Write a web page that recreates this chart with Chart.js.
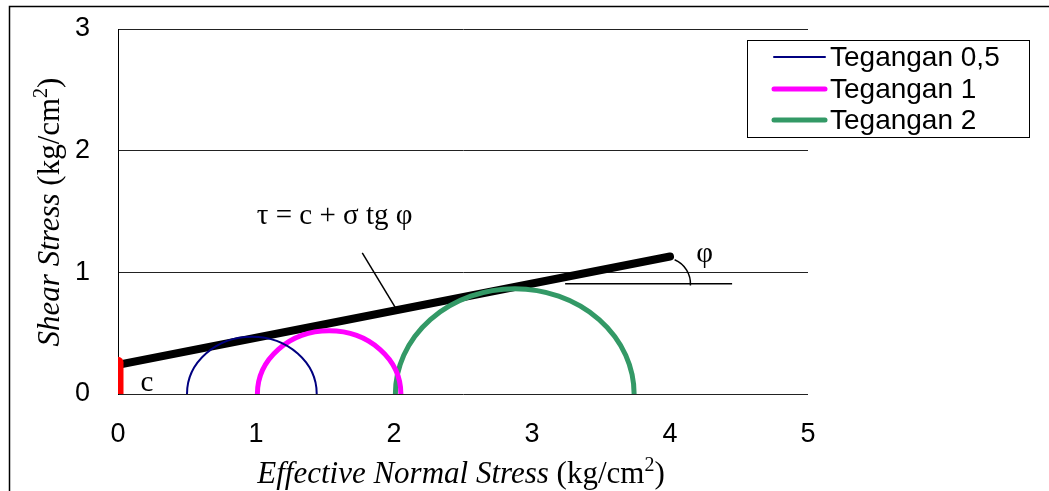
<!DOCTYPE html>
<html>
<head>
<meta charset="utf-8">
<script src="https://cdn.jsdelivr.net/npm/chart.js@4.4.1/dist/chart.umd.min.js"></script>
<style>
  body { margin: 0; background: #fff; }
  canvas { display: block; }
</style>
</head>
<body>
<canvas id="canvas" width="1049" height="491"></canvas>
<script>
// Mohr circles: sigma3 (left end) and sigma1 (right end), kg/cm2
const circleLabels = ['Tegangan 0,5', 'Tegangan 1', 'Tegangan 2'];
const sigma3 = [0.5, 1.01, 2.01];
const sigma1 = [1.44, 2.05, 3.74];
const circleColors = ['#000080', '#ff00ff', '#339966'];
const circleWidths = [2, 5, 5];

// failure envelope  tau = c + sigma tg phi
const envelopeX = [0, 4.0];
const envelopeY = [0.24, 1.13];
// cohesion c
const cohesionY = [0, 0.26];

// annotation helpers
const phiLineX = [3.24, 4.45];
const phiLineY = 0.907;
const pointerX = [1.77, 2.01];
const pointerY = [1.16, 0.71];
const xTicks = [0, 1, 2, 3, 4, 5];
const yTicks = [0, 1, 2, 3];

const toPts = (xs, ys) => xs.map((x, i) => ({ x: x, y: ys[i] }));

const datasets = circleLabels.map((lab, i) => ({
    label: lab,
    data: [{ x: sigma3[i], y: 0 }, { x: sigma1[i], y: 0 }],
    borderColor: circleColors[i],
    borderWidth: circleWidths[i],
    showLine: false,
    pointRadius: 0
}));
datasets.push({
    label: 'envelope',
    data: toPts(envelopeX, envelopeY),
    borderColor: '#000', borderWidth: 8, borderCapStyle: 'round',
    clip: { left: 0, top: 10, right: 10, bottom: 10 },
    showLine: true, pointRadius: 0, order: 2
});
datasets.push({
    label: 'c',
    data: toPts([0, 0], cohesionY),
    borderColor: '#ff0000', borderWidth: 11, borderCapStyle: 'round',
    clip: { left: 0, top: 10, right: 10, bottom: 0 },
    showLine: true, pointRadius: 0, order: 1
});
datasets.push({
    label: 'phi',
    data: toPts(phiLineX, [phiLineY, phiLineY]),
    borderColor: '#000', borderWidth: 1.5,
    showLine: true, pointRadius: 0, order: 3
});
datasets.push({
    label: 'pointer',
    data: toPts(pointerX, pointerY),
    borderColor: '#000', borderWidth: 1.5,
    showLine: true, pointRadius: 0, order: 3
});

const serif = '"Liberation Serif", "Times New Roman", serif';

const extras = {
    id: 'extras',
    beforeDraw(chart) {
        const ctx = chart.ctx;
        ctx.save();
        ctx.fillStyle = '#fff';
        ctx.fillRect(0, 0, chart.width, chart.height);
        ctx.strokeStyle = '#000';
        ctx.lineWidth = 1.5;
        ctx.beginPath();
        ctx.moveTo(9.5, chart.height);
        ctx.lineTo(9.5, 6.5);
        ctx.lineTo(chart.width, 6.5);
        ctx.stroke();
        ctx.restore();
    },
    afterDatasetsDraw(chart) {
        const ctx = chart.ctx;
        const xs = chart.scales.x, ys = chart.scales.y;
        ctx.save();
        // semicircles (first series on top)
        for (let i = sigma3.length - 1; i >= 0; i--) {
            const c = (sigma3[i] + sigma1[i]) / 2, r = (sigma1[i] - sigma3[i]) / 2;
            const cx = xs.getPixelForValue(c), cy = ys.getPixelForValue(0);
            const rx = xs.getPixelForValue(sigma1[i]) - cx;
            const ry = cy - ys.getPixelForValue(r);
            ctx.beginPath();
            ctx.ellipse(cx, cy, rx, ry, 0, Math.PI, 2 * Math.PI);
            ctx.strokeStyle = circleColors[i];
            ctx.lineWidth = circleWidths[i];
            ctx.stroke();
        }
        // phi angle arc
        ctx.beginPath();
        ctx.arc(xs.getPixelForValue(3.96), ys.getPixelForValue(phiLineY), 26, -67 * Math.PI / 180, 4 * Math.PI / 180);
        ctx.strokeStyle = '#000';
        ctx.lineWidth = 1.5;
        ctx.stroke();

        // texts
        ctx.fillStyle = '#000';
        ctx.textBaseline = 'middle';
        ctx.textAlign = 'center';
        ctx.font = '29px ' + serif;
        ctx.fillText('\u03c4 = c + \u03c3 tg \u03c6', xs.getPixelForValue(1.57), ys.getPixelForValue(1.46));
        ctx.fillText('c', xs.getPixelForValue(0.21), ys.getPixelForValue(0.09));
        ctx.fillText('\u03c6', xs.getPixelForValue(4.25), ys.getPixelForValue(1.15));

        // legend
        const lx = 747, ly = 40, lw = 282, lh = 97;
        ctx.fillStyle = '#fff';
        ctx.fillRect(lx, ly, lw, lh);
        ctx.strokeStyle = '#000';
        ctx.lineWidth = 1;
        ctx.strokeRect(lx + 0.5, ly + 0.5, lw, lh);
        ctx.textAlign = 'left';
        ctx.font = '28px "Liberation Sans", Arial, sans-serif';
        const rowY = [57, 89, 120];
        for (let i = 0; i < circleLabels.length; i++) {
            ctx.beginPath();
            ctx.moveTo(774, rowY[i]);
            ctx.lineTo(825, rowY[i]);
            ctx.strokeStyle = circleColors[i];
            ctx.lineWidth = circleWidths[i];
            ctx.lineCap = 'round';
            ctx.stroke();
            ctx.fillStyle = '#000';
            ctx.fillText(circleLabels[i], 830, rowY[i] + 1);
        }

        // axis titles (italic + regular mix)
        const parts = [
            ['italic 31px ' + serif, 0],
            ['31px ' + serif, 0],
            ['20px ' + serif, -12],
            ['31px ' + serif, 0]
        ];
        const drawTitle = (texts, cx, baseY) => {
            let w = 0;
            texts.forEach((t, i) => { ctx.font = parts[i][0]; w += ctx.measureText(t).width; });
            let x = cx - w / 2;
            ctx.textBaseline = 'alphabetic';
            texts.forEach((t, i) => {
                ctx.font = parts[i][0];
                ctx.fillText(t, x, baseY + parts[i][1]);
                x += ctx.measureText(t).width;
            });
        };
        ctx.fillStyle = '#000';
        drawTitle(['Effective Normal Stress', ' (kg/cm', '2', ')'], 461, 483);
        ctx.save();
        ctx.translate(59, 212);
        ctx.rotate(-Math.PI / 2);
        drawTitle(['Shear Stress', ' (kg/cm', '2', ')'], 0, 0);
        ctx.restore();
        ctx.restore();
    }
};

const ctx = document.getElementById('canvas').getContext('2d');
const myChart = new Chart(ctx, {
    type: 'scatter',
    data: { datasets: datasets },
    options: {
        responsive: false,
        animation: false,
        layout: { padding: { left: 0, top: 29, right: 241, bottom: 0 } },
        plugins: { legend: { display: false }, tooltip: { enabled: false } },
        scales: {
            x: {
                type: 'linear', min: 0, max: 5,
                afterBuildTicks: (s) => { s.ticks = xTicks.map(v => ({ value: v })); },
                afterFit: (s) => { s.height = 97; s.paddingLeft = 0; s.paddingRight = 0; },
                grid: { display: false, drawTicks: false },
                border: { display: false },
                ticks: { color: '#000', padding: 24, font: { family: '"Liberation Sans", Arial', size: 27 } }
            },
            y: {
                type: 'linear', min: 0, max: 3,
                afterBuildTicks: (s) => { s.ticks = yTicks.map(v => ({ value: v })); },
                afterFit: (s) => { s.width = 118; s.paddingTop = 0; s.paddingBottom = 0; },
                grid: { color: '#222', lineWidth: 1, drawTicks: false },
                border: { display: true, color: '#000', width: 1 },
                ticks: { color: '#000', padding: 28, font: { family: '"Liberation Sans", Arial', size: 27 } }
            }
        }
    },
    plugins: [extras]
});
</script>
</body>
</html>
